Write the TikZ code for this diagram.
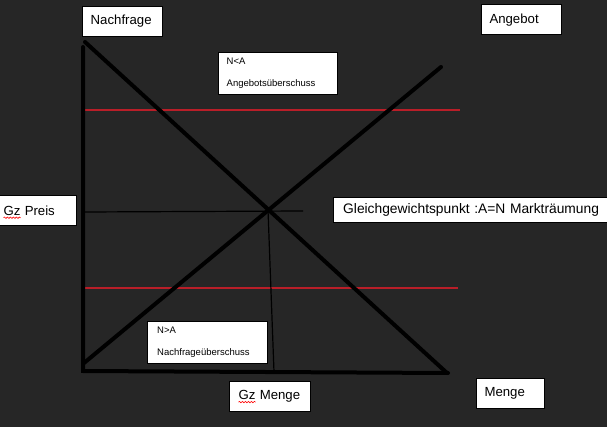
\documentclass[tikz,border=0pt]{standalone}
\usepackage{fontspec}
\setmainfont{Liberation Sans}
\usetikzlibrary{decorations.pathmorphing}
\definecolor{hintergrund}{RGB}{38,38,38}
\definecolor{rotlinie}{RGB}{185,30,40}

\begin{document}
\begin{tikzpicture}[x=1pt,y=-1pt,
    kurve/.style={line width=4pt,line cap=round},
    hilfslinie/.style={line width=1.2pt},
    grenze/.style={line width=1.1pt,draw=rotlinie},
    kasten/.style={draw=black,fill=white,line width=1pt,anchor=north west,
        inner ysep=0pt,align=left,font=\fontsize{13.2}{15}\selectfont},
    kleinkasten/.style={kasten,font=\fontsize{9.5}{21.5}\selectfont},
    welle/.style={draw=red,line width=.6pt,decorate,
        decoration={snake,amplitude=.7pt,segment length=3pt}}]
    \fill[hintergrund](0,0) rectangle (607,427);
    \useasboundingbox(0,0) rectangle (607,427);
    % Achsen und Kurven
    \coordinate (ursprung) at (83,371);
    \coordinate (yende) at (83,47);
    \coordinate (xende) at (448,373);
    \coordinate (nstart) at (85,42);
    \coordinate (nende) at (447,373);
    \coordinate (astart) at (84,363);
    \coordinate (aende) at (441,67);
    \coordinate (gg) at (268,210);
    \coordinate (preislinks) at (85,212);
    \coordinate (preisrechts) at (303,211);
    \coordinate (mengeunten) at (274,372);
    \draw[grenze](83,110)--(460,110);
    \draw[grenze](82,288)--(458,288);
    \draw[hilfslinie](preislinks)--(preisrechts);
    \draw[hilfslinie](gg)--(mengeunten);
    \draw[kurve](yende)--(ursprung)--(xende);
    \draw[kurve](nstart)--(nende);
    \draw[kurve](astart)--(aende);
    % Beschriftungen
    \node[kasten,inner xsep=8.5pt,text width=63.5pt,minimum height=30pt] (nachfrage) at (81.7,6) {Nachfrage};
    \node[kasten,inner xsep=8.3pt,text width=63.7pt,minimum height=29.7pt] (angebot) at (480.7,4.3) {Angebot};
    \node[kleinkasten,inner xsep=8.5pt,text width=102pt,minimum height=42.3pt] (ueberangebot) at (217.7,51.7) {N<A\\Angebotsüberschuss};
    \node[kasten,inner xsep=4pt,text width=68.7pt,minimum height=30pt] (preis) at (-1,195) {Gz Preis};
    \node[kasten,inner xsep=9.7pt,text width=270pt,minimum height=25pt,font=\fontsize{13.8}{15}\selectfont] (gleichgewicht) at (333,196.7) {Gleichgewichtspunkt :A=N Markträumung};
    \node[kleinkasten,inner xsep=9.7pt,text width=100.3pt,minimum height=42pt] (uebernachfrage) at (147,320.7) {N>A\\Nachfrageüberschuss};
    \node[kasten,inner xsep=9pt,text width=63pt,minimum height=30.3pt] (gzmenge) at (229,380.7) {Gz Menge};
    \node[kasten,inner xsep=8.3pt,text width=51.7pt,minimum height=30pt] (menge) at (475.7,378) {Menge};
    \draw[welle]([yshift=-2.5pt]preis.text)--([xshift=17pt,yshift=-2.5pt]preis.text);
    \draw[welle]([yshift=-2.5pt]gzmenge.text)--([xshift=17pt,yshift=-2.5pt]gzmenge.text);
\end{tikzpicture}
\end{document}
